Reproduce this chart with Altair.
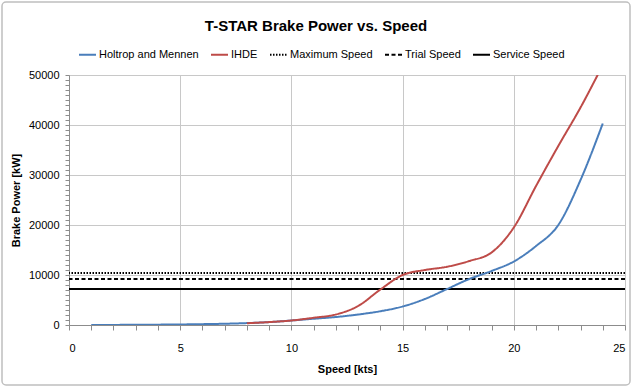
import altair as alt
import pandas as pd

# Brake power curves (kW) against ship speed (kts)
hm_speed = list(range(1, 25))
hm_power = [10, 20, 40, 70, 110, 170, 250, 380, 580, 900, 1250, 1600, 2100,
            2750, 3700, 5200, 7200, 9200, 10800, 12700, 15800, 20000, 29000, 40300]

ihde_speed = list(range(8, 25))
ihde_power = [350, 580, 900, 1450, 2100, 3800, 7100, 10000, 11000, 11650,
              12800, 14500, 19500, 27800, 35800, 43500, 52000]

# Installed power levels at the reference speeds (kW)
level_names = ["Maximum Speed", "Trial Speed", "Service Speed"]
level_power = [10400, 9200, 7200]

series_names = ["Holtrop and Mennen", "IHDE"] + level_names
series_colors = ["#4A7EBB", "#BE4B48", "#000000", "#000000", "#000000"]
series_dash = [[1, 0], [1, 0], [1.5, 1.5], [4, 2.5], [1, 0]]

curves = pd.concat([
    pd.DataFrame({"series": "Holtrop and Mennen", "speed": hm_speed, "power": hm_power}),
    pd.DataFrame({"series": "IHDE", "speed": ihde_speed, "power": ihde_power}),
])
levels = pd.DataFrame({"series": level_names, "power": level_power})

FONT = "Liberation Sans Narrow, Arial Narrow, Liberation Sans, sans-serif"

legend = alt.Legend(
    title=None, orient="none", direction="horizontal", legendX=9, legendY=-30,
    symbolType="stroke", symbolSize=289, symbolStrokeWidth=2,
    labelFont=FONT, labelFontSize=11, labelColor="#000000",
    columnPadding=8, labelOffset=2,
)
color = alt.Color("series:N", scale=alt.Scale(domain=series_names, range=series_colors), legend=legend)
dash = alt.StrokeDash("series:N", scale=alt.Scale(domain=series_names, range=series_dash), legend=legend)

x_axis = alt.Axis(
    title="Speed [kts]", values=list(range(0, 26)), format="d",
    labelExpr="datum.value % 5 === 0 ? datum.label : ''", labelOverlap=False,
    gridOpacity={"condition": {"test": "datum.value % 5 === 0", "value": 1}, "value": 0},
    tickSize=5, labelPadding=12, titlePadding=10,
)
y_axis = alt.Axis(
    title="Brake Power [kW]", values=list(range(0, 50001, 1000)), format="d",
    labelExpr="datum.value % 10000 === 0 ? datum.label : ''", labelOverlap=False,
    gridOpacity={"condition": {"test": "datum.value % 10000 === 0", "value": 1}, "value": 0},
    tickSize=4, labelPadding=6, titlePadding=7,
)
x_scale = alt.Scale(domain=[0, 25], nice=False)
y_scale = alt.Scale(domain=[0, 50000], nice=False)

lines = alt.Chart(curves).mark_line(strokeWidth=2, interpolate="monotone", clip=True).encode(
    x=alt.X("speed:Q", scale=x_scale, axis=x_axis),
    y=alt.Y("power:Q", scale=y_scale, axis=y_axis),
    color=color,
    strokeDash=dash,
)

rules = alt.Chart(levels).mark_rule(strokeWidth=2).encode(
    y=alt.Y("power:Q", scale=y_scale, axis=y_axis),
    color=color,
    strokeDash=dash,
)

frame = alt.Chart(pd.DataFrame({"k": [0]})).mark_rect(
    fill=None, stroke="#BFBFBF", strokeWidth=1.5, cornerRadius=4
).encode(
    x=alt.value(-67), x2=alt.value(561), y=alt.value(-73), y2=alt.value(310)
)

chart = alt.layer(rules, lines, frame).properties(
    width=556, height=250,
    padding={"left": 69, "top": 75, "right": 7, "bottom": 62},
    autosize=alt.AutoSizeParams(type="none"),
    background="white",
    title=alt.TitleParams(
        "T-STAR Brake Power vs. Speed", font=FONT, fontSize=15, fontWeight="bold",
        anchor="middle", dx=-31, offset=-33, color="#000000",
    ),
).configure_axis(
    labelFont=FONT, labelFontSize=11, labelColor="#000000",
    titleFont=FONT, titleFontSize=11, titleFontWeight="bold", titleColor="#000000",
    gridColor="#C8C8C8", gridWidth=1, domainColor="#8C8C8C", tickColor="#8C8C8C",
).configure_view(stroke="#C8C8C8")

chart.save("out.html", embed_options={"renderer": "svg", "actions": False})
